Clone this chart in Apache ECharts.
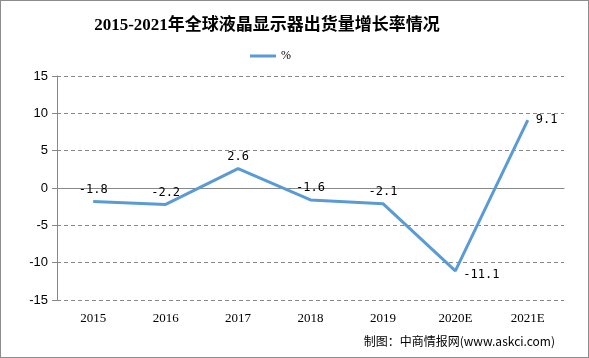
<!DOCTYPE html>
<html><head><meta charset="utf-8">
<script src="https://cdn.jsdelivr.net/npm/echarts@6/dist/echarts.min.js"></script>
<style>html,body{margin:0;padding:0;background:#fff}#c{width:589px;height:358px;box-sizing:border-box;border:1px solid #8c8c8c}</style>
</head><body><div id="c"></div>
<script>
const categories = ['2015','2016','2017','2018','2019','2020E','2021E'];
const growth = [-1.8,-2.2,2.6,-1.6,-2.1,-11.1,9.1];
const yTicks = {min:-15,max:15,interval:5};
const titleText = '2015-2021年全球液晶显示器出货量增长率情况';
const sourceText = '制图：中商情报网(www.askci.com)';

const chart = echarts.init(document.getElementById('c'));
const serif = '"Liberation Serif","Noto Sans CJK SC",serif';
chart.setOption({
  animation:false,
  title:{text:titleText,left:261,top:11,textAlign:'center',
    textStyle:{fontFamily:serif,fontSize:17,fontWeight:'bold',color:'#000'}},
  legend:{data:['%'],left:244,top:44,itemWidth:26,itemHeight:3,itemGap:4,icon:'rect',
    textStyle:{fontFamily:serif,fontSize:12,color:'#000'}},
  graphic:[{type:'text',right:33,top:334,style:{text:sourceText,fontSize:12,
    fontFamily:'"Noto Sans CJK SC",sans-serif',fill:'#000'}}],
  grid:{left:56,right:24,top:75,bottom:57},
  xAxis:{type:'category',data:categories,boundaryGap:true,
    axisLine:{lineStyle:{color:'#888'}},axisTick:{lineStyle:{color:'#888'},length:5},
    axisLabel:{color:'#000',fontFamily:'"Liberation Serif",serif',fontSize:13,margin:12}},
  yAxis:{type:'value',min:yTicks.min,max:yTicks.max,interval:yTicks.interval,
    axisLine:{show:true,lineStyle:{color:'#888'}},axisTick:{show:true,lineStyle:{color:'#888'},length:5},
    splitLine:{lineStyle:{color:'#888',type:[4,3]}},
    axisLabel:{color:'#000',fontFamily:'"Liberation Sans",sans-serif',fontSize:13,margin:9}},
  series:[{name:'%',type:'line',data:growth.map((v,i)=>{
      const o={value:v};
      if(i===5) o.label={position:'right',offset:[2,4]};
      if(i===6) o.label={position:'right',offset:[2,0]};
      return o;}),
    showSymbol:true,symbol:'circle',symbolSize:0,
    lineStyle:{color:'#5B9BD5',width:3},itemStyle:{color:'#5B9BD5'},
    label:{show:true,position:'top',distance:6,color:'#000',
      fontFamily:'"DejaVu Sans Mono",monospace',fontSize:12}}]
});
</script></body></html>
